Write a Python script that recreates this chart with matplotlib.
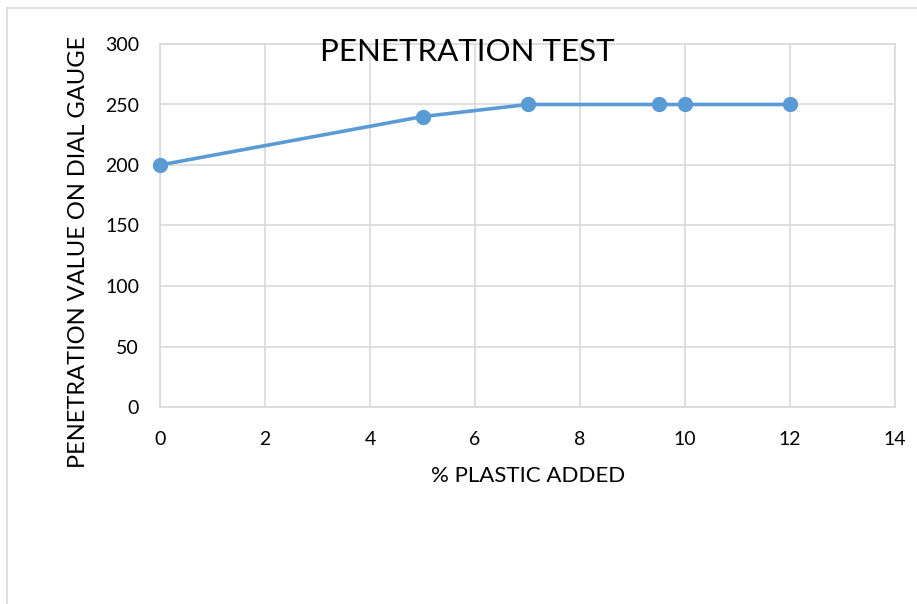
import matplotlib
matplotlib.use("Agg")
import matplotlib.pyplot as plt
from matplotlib.lines import Line2D

plastic_pct = [0, 5, 7, 9.5, 10, 12]
penetration = [200, 240, 250, 250, 250, 250]
x_ticks = [0, 2, 4, 6, 8, 10, 12, 14]
y_ticks = [0, 50, 100, 150, 200, 250, 300]

BLUE = "#5B9BD5"
GRID = "#D9D9D9"
W, H = 917, 604

plt.rcParams["font.family"] = ["Lato", "DejaVu Sans"]

fig = plt.figure(figsize=(W / 100, H / 100), dpi=100)
ax = fig.add_axes([160 / W, 1 - 407 / H, 735 / W, 363 / H])

ax.plot(plastic_pct, penetration, color=BLUE, lw=2.6, marker="o", ms=10,
        solid_capstyle="round", zorder=3, clip_on=False)

ax.set_xlim(0, 14)
ax.set_ylim(0, 300)
ax.set_xticks(x_ticks)
ax.set_yticks(y_ticks)
ax.grid(True, color=GRID, lw=1.2)
ax.set_axisbelow(True)
for side in ("top", "right", "left", "bottom"):
    ax.spines[side].set_color(GRID)
    ax.spines[side].set_linewidth(1.2)
ax.tick_params(length=0, labelsize=14, colors="black")
ax.tick_params(axis="x", pad=17)
ax.tick_params(axis="y", pad=15)

# axis titles and chart title placed in figure pixels, like the original
fig.text(528 / W, 1 - 476 / H, "% PLASTIC ADDED", fontsize=16,
         ha="center", va="center")
fig.text(78.5 / W, 1 - 251.5 / H, "PENETRATION VALUE ON DIAL GAUGE",
         fontsize=17, rotation=90, ha="center", va="center")
fig.text(467 / W, 1 - 52 / H, "PENETRATION TEST", fontsize=22.5,
         ha="center", va="center")

# chart frame (cropped on the right and bottom)
fig.add_artist(Line2D([7 / W, 1], [1 - 8 / H] * 2, color=GRID, lw=1.2))
fig.add_artist(Line2D([7 / W] * 2, [0, 1 - 8 / H], color=GRID, lw=1.2))

fig.savefig("out.png", dpi=100)
